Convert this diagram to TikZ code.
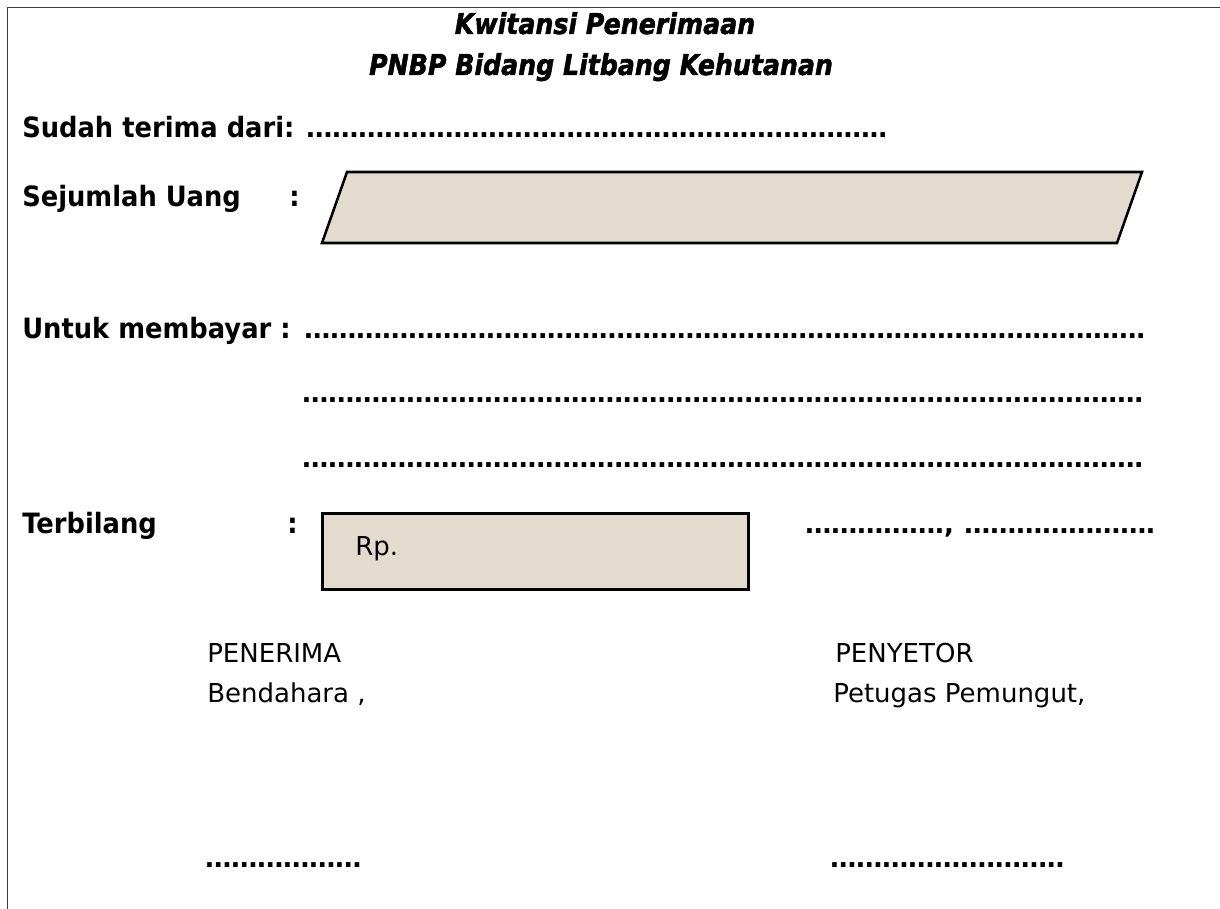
\documentclass[tikz,border=0pt]{standalone}
\usepackage{fontspec}
\setmainfont{DejaVu Sans}
\newfontfamily\lblfont[FakeStretch=0.92]{DejaVu Sans}
\newfontfamily\ttlfont[FakeStretch=0.88, FakeBold=1.6]{DejaVu Sans}
\definecolor{paper}{RGB}{227,220,206}
\definecolor{frame}{RGB}{60,60,60}
\newdimen\dotw \dotw=6.5pt
\newcommand\dotrow[1]{\hbox to #1\dotw{\leaders\hbox to \dotw{\hss\textbf{.}\hss}\hfill}}
\tikzset{
  lbl/.style={anchor=base west, inner sep=0pt, font=\lblfont\fontsize{21pt}{25pt}\selectfont\bfseries},
  txt/.style={anchor=base west, inner sep=0pt, font=\fontsize{19.5pt}{23pt}\selectfont},
  ttl/.style={anchor=base, inner sep=0pt, font=\ttlfont\fontsize{21.5pt}{25pt}\selectfont\bfseries\itshape},
  field/.style={draw=black, line width=1.9pt, fill=paper},
}
\begin{document}
\begin{tikzpicture}[x=0.75pt, y=-0.75pt]
\useasboundingbox (0,0) rectangle (1220,909);
% frame
\coordinate (ftl) at (7.5,7.5);
\coordinate (ftr) at (1220,7.5);
\coordinate (fbl) at (7.5,909);
\draw[frame, line width=1.2pt] (fbl) -- (ftl) -- (ftr);
% title
\node[ttl] (t1) at (605,34) {Kwitansi Penerimaan};
\node[ttl] (t2) at (601,75) {PNBP Bidang Litbang Kehutanan};
% fields
\draw[field] (347,172) -- (1142,172) -- (1117,243) -- (322,243) -- cycle;
\node[field, inner sep=0pt, minimum width=426*0.75pt, minimum height=76*0.75pt, anchor=north west] (rpbox) at (321,512) {};
% labels
\node[lbl] (sudah) at (22,138) {Sudah terima dari:};
\node[txt] (d1) at (306,138) {\dotrow{67}};
\node[lbl] (sejumlah) at (22,207) {Sejumlah Uang};
\node[lbl] (c1) at (289,207) {:};
\node[lbl] (untuk) at (22,338) {Untuk membayar :};
\node[txt] (d2) at (304,338) {\dotrow{97}};
\node[txt] (d3) at (302,402) {\dotrow{97}};
\node[txt] (d4) at (302,467) {\dotrow{97}};
\node[lbl] (terbilang) at (22,533) {Terbilang};
\node[lbl] (c2) at (287,533) {:};
\node[txt] (rp) at (355,555) {Rp.};
\node[txt] (d5) at (805,533) {\dotrow{16}\textbf{,}\hspace{0.4em}\dotrow{22}};
\node[txt] (penerima) at (207,662) {PENERIMA};
\node[txt] (bendahara) at (207,702) {Bendahara ,};
\node[txt] (penyetor) at (835,662) {PENYETOR};
\node[txt] (petugas) at (833,702) {Petugas Pemungut,};
\node[txt] (d6) at (205,867) {\dotrow{18}};
\node[txt] (d7) at (830,867) {\dotrow{27}};
\end{tikzpicture}
\end{document}
